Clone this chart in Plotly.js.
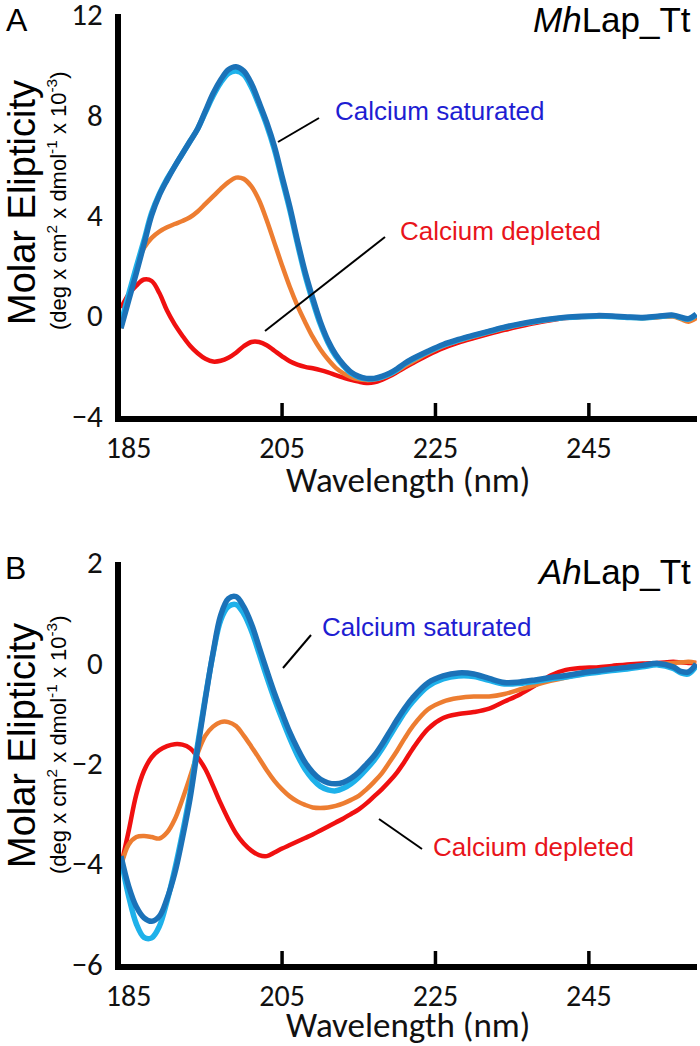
<!DOCTYPE html>
<html>
<head>
<meta charset="utf-8">
<script src="https://cdn.plot.ly/plotly-3.0.1.min.js"></script>
<style>html,body{margin:0;padding:0;background:#fff;}#chart{width:700px;height:1046px;}</style>
</head>
<body>
<div id="chart"></div>
<script>
// Wavelength grid (nm) shared by all curves
const wavelength = [184,185,186,187,188,189,190,191,192,193,194,195,196,197,198,199,200,201,202,203,204,205,206,207,208,209,210,211,212,213,214,215,216,217,218,219,220,221,222,224,226,228,230,232,234,236,238,240,242,244,246,248,250,252,254,256,257,258,259];

// ---------- Panel A (MhLap_Tt), molar ellipticity x 10^-3 ----------
const A_satDark = [-0.5,0.6,1.7,2.85,4.0,4.8,5.4,5.95,6.45,6.95,7.45,8.15,8.85,9.4,9.8,9.92,9.75,9.25,8.5,7.7,6.75,5.55,4.35,3.0,1.75,0.7,-0.25,-1.0,-1.55,-1.95,-2.25,-2.42,-2.5,-2.5,-2.42,-2.3,-2.12,-1.9,-1.72,-1.42,-1.15,-0.95,-0.78,-0.62,-0.46,-0.33,-0.22,-0.13,-0.06,-0.02,0.0,-0.01,-0.05,-0.07,-0.02,0.02,-0.06,-0.12,0.06];
const A_satLight = [-0.3,0.85,1.95,3.0,4.1,4.85,5.45,5.95,6.45,6.95,7.45,8.1,8.75,9.28,9.65,9.75,9.6,9.1,8.38,7.58,6.62,5.42,4.22,2.88,1.62,0.58,-0.35,-1.08,-1.62,-2.0,-2.3,-2.45,-2.52,-2.52,-2.45,-2.33,-2.15,-1.93,-1.75,-1.45,-1.18,-0.98,-0.8,-0.64,-0.48,-0.35,-0.24,-0.15,-0.08,-0.04,-0.02,-0.03,-0.07,-0.09,-0.04,0.0,-0.08,-0.14,0.03];
const A_orange = [-0.5,0.7,1.9,2.7,3.1,3.35,3.52,3.65,3.77,3.92,4.15,4.45,4.75,5.05,5.32,5.5,5.45,5.15,4.6,3.8,2.9,2.0,1.15,0.4,-0.25,-0.85,-1.35,-1.75,-2.08,-2.3,-2.45,-2.54,-2.57,-2.55,-2.48,-2.36,-2.2,-2.01,-1.84,-1.5,-1.22,-1.01,-0.84,-0.67,-0.51,-0.37,-0.26,-0.16,-0.08,-0.04,-0.02,-0.03,-0.07,-0.1,-0.06,-0.04,-0.14,-0.24,-0.1];
const A_depleted = [0.3,0.85,1.2,1.44,1.38,0.9,0.2,-0.35,-0.8,-1.2,-1.5,-1.72,-1.83,-1.8,-1.68,-1.48,-1.22,-1.05,-1.05,-1.18,-1.4,-1.62,-1.82,-1.95,-2.04,-2.1,-2.17,-2.26,-2.37,-2.47,-2.56,-2.63,-2.68,-2.66,-2.56,-2.42,-2.25,-2.07,-1.9,-1.58,-1.3,-1.08,-0.9,-0.73,-0.57,-0.43,-0.3,-0.19,-0.1,-0.05,-0.03,-0.03,-0.06,-0.09,-0.05,-0.02,-0.1,-0.18,-0.06];

// ---------- Panel B (AhLap_Tt), molar ellipticity x 10^-3 ----------
const B_satDark = [-3.85,-4.45,-4.86,-5.08,-5.15,-5.05,-4.7,-4.2,-3.5,-2.71,-1.7,-0.72,0.2,0.95,1.28,1.32,1.12,0.78,0.32,-0.15,-0.6,-1.0,-1.38,-1.7,-1.98,-2.18,-2.32,-2.39,-2.41,-2.38,-2.3,-2.18,-2.02,-1.85,-1.63,-1.38,-1.13,-0.9,-0.7,-0.4,-0.26,-0.2,-0.22,-0.31,-0.39,-0.38,-0.34,-0.29,-0.25,-0.2,-0.16,-0.12,-0.09,-0.05,-0.01,-0.08,-0.17,-0.18,-0.02];
const B_satLight = [-3.9,-4.65,-5.2,-5.47,-5.48,-5.25,-4.75,-4.12,-3.4,-2.6,-1.62,-0.68,0.18,0.85,1.12,1.16,0.98,0.64,0.19,-0.28,-0.72,-1.12,-1.5,-1.84,-2.12,-2.32,-2.46,-2.53,-2.55,-2.5,-2.41,-2.28,-2.12,-1.94,-1.72,-1.47,-1.22,-0.98,-0.78,-0.47,-0.32,-0.26,-0.27,-0.35,-0.42,-0.41,-0.37,-0.32,-0.28,-0.23,-0.19,-0.15,-0.12,-0.08,-0.04,-0.11,-0.2,-0.22,-0.06];
const B_orange = [-4.05,-3.62,-3.47,-3.45,-3.47,-3.5,-3.38,-3.12,-2.72,-2.27,-1.8,-1.45,-1.27,-1.18,-1.18,-1.26,-1.45,-1.67,-1.9,-2.14,-2.35,-2.52,-2.66,-2.76,-2.83,-2.88,-2.89,-2.88,-2.85,-2.8,-2.73,-2.65,-2.52,-2.37,-2.2,-1.98,-1.75,-1.5,-1.27,-0.93,-0.77,-0.7,-0.67,-0.67,-0.62,-0.53,-0.44,-0.36,-0.29,-0.23,-0.17,-0.12,-0.08,-0.05,-0.02,0.0,0.01,0.02,0.0];
const B_depleted = [-4.05,-3.35,-2.62,-2.15,-1.88,-1.74,-1.66,-1.62,-1.63,-1.7,-1.88,-2.12,-2.45,-2.8,-3.12,-3.4,-3.6,-3.74,-3.83,-3.85,-3.78,-3.7,-3.63,-3.56,-3.49,-3.42,-3.34,-3.26,-3.18,-3.1,-3.01,-2.92,-2.8,-2.66,-2.52,-2.36,-2.18,-1.96,-1.72,-1.32,-1.1,-1.02,-0.98,-0.91,-0.77,-0.63,-0.45,-0.25,-0.14,-0.1,-0.09,-0.06,-0.03,-0.01,0.0,0.02,0.01,0.0,0.0];

// ---------- Axes ----------
const xTickVals = [185, 205, 225, 245];
const xTickText = ['185', '205', '225', '245'];
const xTickMarks = [205, 225, 245];   // inward tick marks (none at 185 in the original)
const xRange = [184.0, 259.1];
const yTicksA = [-4, 0, 4, 8, 12];
const yTicksB = [-6, -4, -2, 0, 2];

// ---------- Styles ----------
const C_DARK = '#1B72B8', C_LIGHT = '#1EB1EA', C_ORANGE = '#ED7D31', C_RED = '#F01010';
const TXT_BLUE = '#1E1ED2', TXT_RED = '#E8141B';
const CAL = 'Carlito, Lato, sans-serif';
const ARIAL = 'Liberation Sans, Arial, sans-serif';

const W = 700, Hpx = 1046;
const M = {l: 121, r: 3, t: 14, b: 82};
const PW = W - M.l - M.r, PH = Hpx - M.t - M.b;
const px = x => (x - M.l) / PW;
const py = y => 1 - (y - M.t) / PH;

function tr(y, color, width, xa, ya, name) {
  return {x: wavelength, y: y, xaxis: xa, yaxis: ya, type: 'scatter', mode: 'lines', name: name,
          line: {color: color, width: width, shape: 'spline', smoothing: 1},
          hoverinfo: 'x+y+name', showlegend: false};
}

const data = [
  tr(A_depleted, C_RED, 4.5, 'x', 'y', 'Calcium depleted'),
  tr(A_orange, C_ORANGE, 4.5, 'x', 'y', 'Intermediate'),
  tr(A_satLight, C_LIGHT, 5.5, 'x', 'y', 'Calcium saturated (2)'),
  tr(A_satDark, C_DARK, 5.5, 'x', 'y', 'Calcium saturated (1)'),
  tr(B_depleted, C_RED, 4.5, 'x2', 'y2', 'Calcium depleted'),
  tr(B_orange, C_ORANGE, 4.5, 'x2', 'y2', 'Intermediate'),
  tr(B_satLight, C_LIGHT, 5.5, 'x2', 'y2', 'Calcium saturated (2)'),
  tr(B_satDark, C_DARK, 5.5, 'x2', 'y2', 'Calcium saturated (1)')
];

const domA = [py(416), 1];
const domB = [0, py(562)];

function xax(anchor) {
  return {
    anchor: anchor, domain: [0, 1], range: xRange,
    showline: true, linewidth: 6, linecolor: '#000',
    showgrid: false, zeroline: false,
    tickmode: 'array', tickvals: xTickVals, ticktext: xTickText, ticks: '',
    tickfont: {family: CAL, size: 30, color: '#111'},
    ticklabelstandoff: 0, ticklabeloverflow: 'allow',
    automargin: false
  };
}
function yax(anchor, dom, range, ticks) {
  return {
    anchor: anchor, domain: dom, range: range,
    showline: true, linewidth: 6, linecolor: '#000',
    showgrid: false, zeroline: false,
    tickmode: 'array', tickvals: ticks, ticks: '',
    tickfont: {family: CAL, size: 31, color: '#111'},
    ticklabelstandoff: 6, ticklabeloverflow: 'allow',
    automargin: false
  };
}

const ann = [];
function txt(text, x, y, size, opts) {
  ann.push(Object.assign({text: text, xref: 'paper', yref: 'paper', x: px(x), y: py(y),
    xanchor: 'center', yanchor: 'middle', showarrow: false,
    font: {family: ARIAL, size: size, color: '#000'}}, opts || {}));
}
// panel letters and protein names
txt('A', 17, 20, 32);
txt('<i>Mh</i>Lap_Tt', 693, 20, 35, {xanchor: 'right'});
txt('B', 15, 568, 32);
txt('<i>Ah</i>Lap_Tt', 693, 571, 35, {xanchor: 'right'});
// y titles
txt('Molar Elipticity', 22, 203, 38, {textangle: -90});
txt('(deg x cm<sup>2</sup> x dmol<sup>-1</sup> x 10<sup>-3</sup>)', 57, 201, 22, {textangle: -90});
txt('Molar Elipticity', 22, 746, 38, {textangle: -90});
txt('(deg x cm<sup>2</sup> x dmol<sup>-1</sup> x 10<sup>-3</sup>)', 57, 745, 22, {textangle: -90});
// x titles
txt('Wavelength (nm)', 408, 480, 35, {font: {family: CAL, size: 35, color: '#111'}});
txt('Wavelength (nm)', 408, 1025, 35, {font: {family: CAL, size: 35, color: '#111'}});
// curve labels
txt('Calcium saturated', 333, 111, 26, {xanchor: 'left', font: {family: ARIAL, size: 26, color: TXT_BLUE}});
txt('Calcium depleted', 398, 231, 26, {xanchor: 'left', font: {family: ARIAL, size: 26, color: TXT_RED}});
txt('Calcium saturated', 320, 627, 26, {xanchor: 'left', font: {family: ARIAL, size: 26, color: TXT_BLUE}});
txt('Calcium depleted', 431, 847, 26, {xanchor: 'left', font: {family: ARIAL, size: 26, color: TXT_RED}});

// leader lines (pixel positions of the callout strokes)
const leaders = [[278,142,319,118],[265,331,385,237],[283,668,311,635],[379,819,422,849]];
const shapes = leaders.map(s => ({type: 'line', xref: 'paper', yref: 'paper',
  x0: px(s[0]), y0: py(s[1]), x1: px(s[2]), y1: py(s[3]), line: {color: '#000', width: 2}}));
// inward tick marks on both wavelength axes: 12 px long, from the axis line upward
const tickTopA = 416 - 13, tickTopB = 964 - 13;
xTickMarks.forEach(function(v) {
  shapes.push({type: 'line', xref: 'x', yref: 'paper', x0: v, x1: v, y0: py(419), y1: py(tickTopA),
    line: {color: '#000', width: 3.5}});
  shapes.push({type: 'line', xref: 'x2', yref: 'paper', x0: v, x1: v, y0: py(967), y1: py(tickTopB),
    line: {color: '#000', width: 3.5}});
});

const layout = {
  width: W, height: Hpx, margin: M,
  paper_bgcolor: '#fff', plot_bgcolor: '#fff',
  showlegend: false,
  xaxis: xax('y'), yaxis: yax('x', domA, [-4, 12.02], yTicksA),
  xaxis2: xax('y2'), yaxis2: yax('x2', domB, [-6, 2.01], yTicksB),
  annotations: ann, shapes: shapes
};

Plotly.newPlot('chart', data, layout, {displayModeBar: false, staticPlot: true});
</script>
</body>
</html>
